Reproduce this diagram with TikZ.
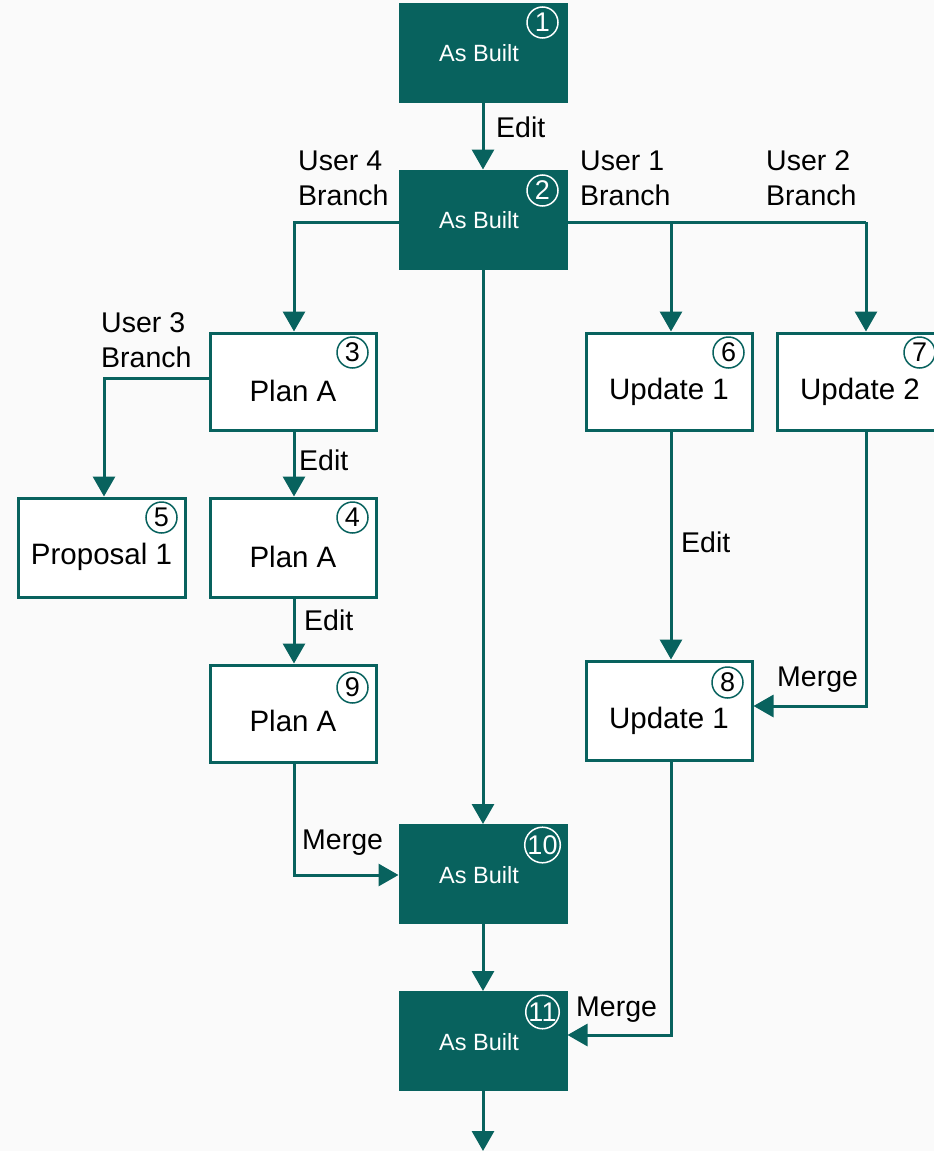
\documentclass[tikz,border=0pt]{standalone}
\usepackage{fontspec}
\setmainfont{Liberation Sans}
\usetikzlibrary{arrows.meta,positioning}
\definecolor{teal}{RGB}{8,98,94}
\definecolor{paper}{RGB}{250,250,250}
\tikzset{
  box/.style={rectangle, draw=teal, line width=3pt, minimum width=166pt, minimum height=97pt, inner sep=0pt},
  darkbox/.style={box, fill=teal},
  lightbox/.style={box, fill=white},
  whitetxt/.style={text=white, font=\fontsize{23.5}{26}\selectfont},
  blacktxt/.style={text=black, font=\fontsize{29.5}{32}\selectfont},
  numdark/.style={circle, draw=white, line width=1.5pt, minimum size=31pt, inner sep=0pt, text=white, font=\fontsize{27}{27}\selectfont},
  numlight/.style={circle, draw=teal, line width=1.5pt, minimum size=31pt, inner sep=0pt, text=black, font=\fontsize{27}{27}\selectfont},
  lbl/.style={text=black, font=\fontsize{28.5}{35}\selectfont, align=left, inner sep=0pt},
  flow/.style={draw=teal, line width=3pt, -{Triangle[width=22pt,length=20pt]}},
}
\begin{document}
\begin{tikzpicture}[x=1pt,y=-1pt]
\useasboundingbox (0,0) rectangle (934,1151);
\clip (0,0) rectangle (934,1151);
\fill[paper] (0,0) rectangle (934,1151);

% boxes
\node[darkbox] (n1) at (483,52.5) {};
\node[darkbox] (n2) at (483,219.5) {};
\node[lightbox] (n3) at (293,381.5) {};
\node[lightbox, minimum height=99pt] (n4) at (293,547.5) {};
\node[lightbox, minimum height=99pt, minimum width=167pt] (n5) at (101.5,547.5) {};
\node[lightbox] (n6) at (669,381.5) {};
\node[lightbox] (n7) at (860,381.5) {};
\node[lightbox, minimum height=99pt] (n8) at (669,710.5) {};
\node[lightbox] (n9) at (293,713.5) {};
\node[darkbox] (n10) at (483,874) {};
\node[darkbox] (n11) at (483,1041) {};

% box captions
\node[whitetxt] (t1) at ([xshift=-4,yshift=-1]n1.center) {As Built};
\node[whitetxt] (t2) at ([xshift=-4,yshift=-1]n2.center) {As Built};
\node[whitetxt] (t10) at ([xshift=-4,yshift=-1]n10.center) {As Built};
\node[whitetxt] (t11) at ([xshift=-4,yshift=-1]n11.center) {As Built};
\node[blacktxt] (t3) at ([yshift=-9]n3.center) {Plan A};
\node[blacktxt] (t4) at ([yshift=-9]n4.center) {Plan A};
\node[blacktxt] (t5) at ([yshift=-9]n5.center) {Proposal 1};
\node[blacktxt] (t6) at ([yshift=-10]n6.center) {Update 1};
\node[blacktxt] (t7) at ([yshift=-10]n7.center) {Update 2};
\node[blacktxt] (t8) at ([yshift=-10]n8.center) {Update 1};
\node[blacktxt] (t9) at ([yshift=-7]n9.center) {Plan A};

% step numbers
\node[numdark] (c1) at ([xshift=-25,yshift=-20]n1.north east) {1};
\node[numdark] (c2) at ([xshift=-25,yshift=-21]n2.north east) {2};
\node[numlight] (c3) at ([xshift=-25,yshift=-21]n3.north east) {3};
\node[numlight] (c4) at ([xshift=-25,yshift=-21]n4.north east) {4};
\node[numlight] (c5) at ([xshift=-25,yshift=-21]n5.north east) {5};
\node[numlight] (c6) at ([xshift=-25,yshift=-21]n6.north east) {6};
\node[numlight] (c7) at ([xshift=-25,yshift=-21]n7.north east) {7};
\node[numlight] (c8) at ([xshift=-26,yshift=-23]n8.north east) {8};
\node[numlight] (c9) at ([xshift=-25,yshift=-24]n9.north east) {9};
\node[numdark] (c10) at ([xshift=-25,yshift=-21]n10.north east) {10};
\node[numdark] (c11) at ([xshift=-25,yshift=-21]n11.north east) {11};

% connectors
\coordinate (b2l) at (294,222);
\coordinate (b2r6) at (671,222);
\coordinate (b2r7) at (866,222);
\coordinate (b3l) at (104,378);
\coordinate (m9) at (294,875);
\coordinate (m7) at (866,706);
\coordinate (m8) at (671,1035);
\coordinate (out) at (483,1151);

\draw[flow] (n1.south) -- (n2.north);
\draw[flow] (n2.west |- b2l) -- (b2l) -- (b2l |- n3.north);
\draw[draw=teal, line width=3pt] (n2.east |- b2r7) -- (b2r7);
\draw[flow] (b2r6) -- (b2r6 |- n6.north);
\draw[flow] (b2r7) -- (b2r7 |- n7.north);
\draw[flow] (n2.south) -- (n10.north);
\draw[flow] (n3.west |- b3l) -- (b3l) -- (b3l |- n5.north);
\draw[flow] (n3.south -| b2l) -- (n4.north -| b2l);
\draw[flow] (n4.south -| b2l) -- (n9.north -| b2l);
\draw[flow] (n9.south -| m9) -- (m9) -- (m9 -| n10.west);
\draw[flow] (n6.south -| m8) -- (n8.north -| m8);
\draw[flow] (n7.south -| m7) -- (m7) -- (m7 -| n8.east);
\draw[flow] (n8.south -| m8) -- (m8) -- (m8 -| n11.east);
\draw[flow] (n10.south) -- (n11.north);
\draw[flow] (n11.south) -- (out);

% connector labels
\node[lbl, anchor=west] (e1) at (496,127) {Edit};
\node[lbl, anchor=west] (u4) at (298,178) {User 4\\Branch};
\node[lbl, anchor=west] (u1) at (580,178) {User 1\\Branch};
\node[lbl, anchor=west] (u2) at (766,178) {User 2\\Branch};
\node[lbl, anchor=west] (u3) at (101,340) {User 3\\Branch};
\node[lbl, anchor=west] (e3) at (299,460) {Edit};
\node[lbl, anchor=west] (e4) at (304,620) {Edit};
\node[lbl, anchor=west] (e6) at (681,542) {Edit};
\node[lbl, anchor=west] (mg9) at (302,843) {Merge};
\node[lbl, anchor=west] (mg7) at (777,680) {Merge};
\node[lbl, anchor=west] (mg8) at (576,1010) {Merge};
\end{tikzpicture}
\end{document}
